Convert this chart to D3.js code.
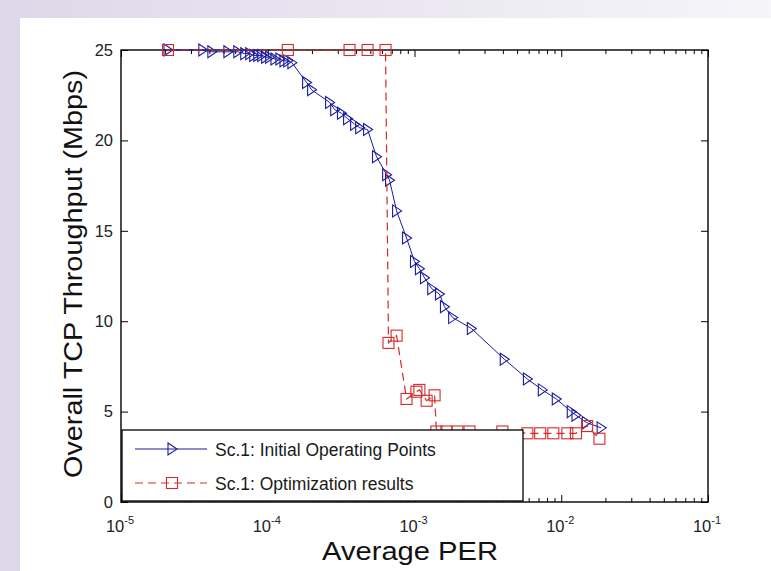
<!DOCTYPE html>
<html>
<head>
<meta charset="utf-8">
<script src="https://cdn.jsdelivr.net/npm/d3@7"></script>
<style>
  body { margin: 0; background: #fff; }
  svg { display: block; font-family: "Liberation Sans", Arial, sans-serif; }
</style>
</head>
<body>
<svg id="chart" width="771" height="571"></svg>
<script>
// Sc.1 initial operating points (PER, Mbps)
var initPER = [2.09e-5, 3.61e-5, 4.16e-5, 5.35e-5, 6.25e-5, 6.97e-5, 7.54e-5, 8.03e-5, 8.55e-5, 9.10e-5,
  9.68e-5, 1.03e-4, 1.12e-4, 1.21e-4, 1.29e-4, 1.37e-4, 1.46e-4, 1.84e-4, 1.99e-4, 2.64e-4,
  2.86e-4, 3.18e-4, 3.50e-4, 3.91e-4, 4.23e-4, 4.79e-4, 5.51e-4, 6.46e-4, 6.76e-4, 7.55e-4,
  8.83e-4, 1.00e-3, 1.08e-3, 1.17e-3, 1.31e-3, 1.48e-3, 1.60e-3, 1.82e-3, 2.44e-3, 4.09e-3,
  5.88e-3, 7.43e-3, 9.25e-3, 1.17e-2, 1.26e-2, 1.48e-2, 1.87e-2];
var initTput = [25.0, 25.0, 24.9, 24.9, 24.9, 24.8, 24.8, 24.7, 24.7, 24.7,
  24.6, 24.6, 24.5, 24.5, 24.4, 24.4, 24.3, 23.2, 22.8, 22.1,
  21.7, 21.5, 21.2, 20.9, 20.7, 20.6, 19.1, 18.1, 17.8, 16.1,
  14.6, 13.3, 12.9, 12.4, 11.8, 11.5, 10.8, 10.2, 9.6, 7.9,
  6.8, 6.2, 5.7, 5.0, 4.8, 4.4, 4.1];

// Sc.1 optimization results
var optPER = [2.09e-5, 1.37e-4, 3.61e-4, 4.79e-4, 6.35e-4, 6.65e-4, 7.55e-4, 8.83e-4, 1.03e-3, 1.08e-3,
  1.21e-3, 1.37e-3, 1.41e-3, 1.65e-3, 1.96e-3, 2.37e-3, 3.97e-3, 5.88e-3, 7.19e-3, 8.83e-3,
  1.10e-2, 1.26e-2, 1.50e-2, 1.82e-2];
var optTput = [25, 25, 25, 25, 25, 8.8, 9.2, 5.7, 6.1, 6.2,
  5.6, 5.9, 3.9, 3.9, 3.9, 3.9, 3.9, 3.8, 3.8, 3.8,
  3.8, 3.8, 4.2, 3.5];

var yTicks = [0, 5, 10, 15, 20, 25];
var xExponents = [-5, -4, -3, -2, -1];
var legendLabels = ['Sc.1: Initial Operating Points', 'Sc.1: Optimization results'];

var svg = d3.select('#chart');
var blue = '#1b1b9e', red = '#d42a2a';

// figure background (lavender frame on left/top)
var defs = svg.append('defs');
var g1 = defs.append('linearGradient').attr('id', 'topFade').attr('x1', 0).attr('x2', 1);
g1.append('stop').attr('offset', 0).attr('stop-color', '#ddd8e9');
g1.append('stop').attr('offset', 1).attr('stop-color', '#f6f5fa');
svg.append('rect').attr('width', 771).attr('height', 571).attr('fill', '#fff');
svg.append('rect').attr('width', 771).attr('height', 18).attr('fill', 'url(#topFade)');
svg.append('rect').attr('width', 20).attr('height', 571).attr('fill', '#ddd8e9');

var pLeft = 121, pRight = 708, pTop = 50, pBottom = 502;

var x = d3.scaleLog().domain([1e-5, 1e-1]).range([pLeft, pRight]);
var y = d3.scaleLinear().domain([0, 25]).range([pBottom, pTop]);

var majors = xExponents.map(e => Math.pow(10, e));
var minors = [];
xExponents.slice(0, -1).forEach(e => {
  for (var k = 2; k <= 9; k++) minors.push(k * Math.pow(10, e));
});

function styleAxis(g) {
  g.select('.domain').remove();
  g.selectAll('line').attr('stroke', '#000').attr('stroke-width', 1);
}

// ticks (inward)
svg.append('g').attr('transform', `translate(0,${pBottom})`)
  .call(d3.axisBottom(x).tickValues(majors).tickSize(-7).tickFormat(''))
  .call(styleAxis);
svg.append('g').attr('transform', `translate(0,${pBottom})`)
  .call(d3.axisBottom(x).tickValues(minors).tickSize(-4).tickFormat(''))
  .call(styleAxis);
svg.append('g').attr('transform', `translate(0,${pTop})`)
  .call(d3.axisTop(x).tickValues(majors).tickSize(-7).tickFormat(''))
  .call(styleAxis);
svg.append('g').attr('transform', `translate(0,${pTop})`)
  .call(d3.axisTop(x).tickValues(minors).tickSize(-4).tickFormat(''))
  .call(styleAxis);
svg.append('g').attr('transform', `translate(${pRight},0)`)
  .call(d3.axisRight(y).tickValues(yTicks).tickSize(-7).tickFormat(''))
  .call(styleAxis);

var yAxis = svg.append('g').attr('transform', `translate(${pLeft},0)`)
  .call(d3.axisLeft(y).tickValues(yTicks).tickSize(-7).tickPadding(8).tickFormat(d3.format('d')))
  .call(styleAxis);
yAxis.selectAll('text')
  .attr('font-family', '"Liberation Sans", Arial, sans-serif')
  .attr('font-size', 16.5).attr('fill', '#222');

// x tick labels 10^e
var xl = svg.append('g').selectAll('text').data(xExponents).enter()
  .append('text')
  .attr('x', d => x(Math.pow(10, d)) - 1)
  .attr('y', 532)
  .attr('text-anchor', 'middle')
  .attr('font-size', 16.5)
  .attr('fill', '#222');
xl.append('tspan').text('10');
xl.append('tspan').attr('dy', -8).attr('font-size', 11).text(d => d);

// box
svg.append('rect')
  .attr('x', pLeft).attr('y', pTop)
  .attr('width', pRight - pLeft).attr('height', pBottom - pTop)
  .attr('fill', 'none').attr('stroke', '#000').attr('stroke-width', 1.4);

// series
var initData = initPER.map((p, i) => [p, initTput[i]]);
var optData = optPER.map((p, i) => [p, optTput[i]]);
var line = d3.line().x(d => x(d[0])).y(d => y(d[1]));

var tri = 'M-4,-6 L5,0 L-4,6 Z';

svg.append('path').datum(initData)
  .attr('d', line).attr('fill', 'none')
  .attr('stroke', blue).attr('stroke-width', 1);
svg.append('g').selectAll('path').data(initData).enter()
  .append('path')
  .attr('transform', d => `translate(${x(d[0])},${y(d[1])})`)
  .attr('d', tri).attr('fill', 'none')
  .attr('stroke', blue).attr('stroke-width', 1.1);

svg.append('path').datum(optData)
  .attr('d', line).attr('fill', 'none')
  .attr('stroke', red).attr('stroke-width', 1.2)
  .attr('stroke-dasharray', '8,5');
svg.append('g').selectAll('rect').data(optData).enter()
  .append('rect')
  .attr('x', d => x(d[0]) - 5.5).attr('y', d => y(d[1]) - 5.5)
  .attr('width', 11).attr('height', 11)
  .attr('fill', 'none').attr('stroke', red).attr('stroke-width', 1.1);

// legend
var lg = svg.append('g');
lg.append('rect')
  .attr('x', 122).attr('y', 430).attr('width', 401).attr('height', 71)
  .attr('fill', '#fff').attr('stroke', '#000').attr('stroke-width', 1.3);
var rowY = [449, 483];
lg.append('line').attr('x1', 135).attr('x2', 207).attr('y1', rowY[0]).attr('y2', rowY[0])
  .attr('stroke', blue).attr('stroke-width', 1);
lg.append('path').attr('transform', `translate(172,${rowY[0]})`).attr('d', tri)
  .attr('fill', 'none').attr('stroke', blue).attr('stroke-width', 1.1);
lg.append('line').attr('x1', 135).attr('x2', 207).attr('y1', rowY[1]).attr('y2', rowY[1])
  .attr('stroke', red).attr('stroke-width', 1.2).attr('stroke-dasharray', '8,5');
lg.append('rect').attr('x', 166.5).attr('y', rowY[1] - 5.5).attr('width', 11).attr('height', 11)
  .attr('fill', 'none').attr('stroke', red).attr('stroke-width', 1.1);
lg.selectAll('text.leg').data(legendLabels).enter()
  .append('text').attr('class', 'leg')
  .attr('x', 215).attr('y', (d, i) => rowY[i] + 7)
  .attr('font-size', 17.5).attr('fill', '#1a1a1a')
  .text(d => d);

// axis titles
svg.append('text')
  .attr('x', 410).attr('y', 560)
  .attr('text-anchor', 'middle')
  .attr('font-size', 25)
  .attr('textLength', 176).attr('lengthAdjust', 'spacingAndGlyphs')
  .attr('fill', '#111')
  .text('Average PER');

svg.append('text')
  .attr('transform', 'translate(82,274) rotate(-90)')
  .attr('text-anchor', 'middle')
  .attr('font-size', 25)
  .attr('textLength', 408).attr('lengthAdjust', 'spacingAndGlyphs')
  .attr('fill', '#111')
  .text('Overall TCP Throughput (Mbps)');
</script>
</body>
</html>
